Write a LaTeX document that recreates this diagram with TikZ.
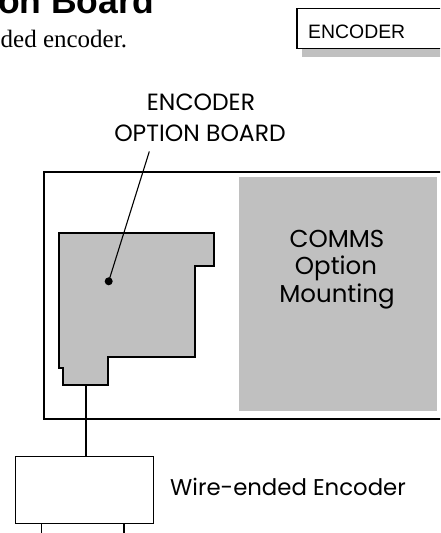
\documentclass[tikz,border=0pt]{standalone}
\usepackage{fontspec}
\setmainfont{Liberation Serif}
\newfontfamily\futura{Poppins}
\newfontfamily\arialf{Liberation Sans}
\definecolor{panelgray}{HTML}{C0C0C0}
\begin{document}
\begin{tikzpicture}[x=1pt,y=-1pt,
  outline/.style={draw=black, line width=1.1pt},
  boardfill/.style={outline, fill=panelgray},
  futlabel/.style={inner sep=0pt, font=\futura\fontsize{23.5}{23.5}\selectfont},
  commslabel/.style={inner sep=0pt, font=\futura\fontsize{24.5}{24.5}\selectfont},
  wire/.style={draw=black, line width=1.1pt}]
\useasboundingbox (0,0) rectangle (440,533);
\clip (0,0) rectangle (440,533);

% header
\node[anchor=base east, inner sep=0pt, font=\arialf\bfseries\fontsize{35.5}{35.5}\selectfont] (title) at (154,13.3) {on Board};
\node[anchor=base west, inner sep=0pt, font=\fontsize{25}{25}\selectfont] (sub) at (0.5,47.3) {ded encoder.};

% ENCODER tab
\fill[panelgray] (302,48) rectangle (450,57);
\draw[outline, fill=white] (297,8.5) rectangle (450,48.5);
\node[anchor=base west, inner sep=0pt, font=\arialf\fontsize{19.4}{19.4}\selectfont] (tab) at (308,38) {ENCODER};

% main enclosure
\draw[outline] (44,172) rectangle (450,419);
\fill[panelgray] (239,177) rectangle (437,411);
\node[commslabel, anchor=base] (c1) at (337,247.3) {COMMS};
\node[commslabel, anchor=base] (c2) at (336,274.8) {Option};
\node[commslabel, anchor=base] (c3) at (337,302.3) {Mounting};

% encoder option board
\draw[boardfill] (59,233) -- (214,233) -- (214,266) -- (195,266) -- (195,357)
  -- (108,357) -- (108,385) -- (63,385) -- (63,368) -- (59,368) -- cycle;
\coordinate (dot) at (108.7,281.3);
\coordinate (lblpt) at (149.3,151.5);
\coordinate (boardbot) at (86,385);
\fill (dot) circle (4);

% label
\node[futlabel, anchor=base] (l1) at (201,110.7) {ENCODER};
\node[futlabel, anchor=base] (l2) at (200,141.7) {OPTION BOARD};
\draw[wire] (lblpt) -- (dot);

% wire-ended encoder
\node[draw=black, line width=1.1pt, anchor=north west, inner sep=0pt,
  minimum width=138.6pt, minimum height=67.6pt] (enc) at (14.7,455.7) {};
\draw[wire] (boardbot) -- (boardbot |- enc.north);
\draw[outline] (41.7,545) -- (41.7,523.3) -- (124,523.3) -- (124,545);
\node[anchor=base west, inner sep=0pt, font=\futura\fontsize{22.8}{22.8}\selectfont] (encl) at (170,495) {Wire-ended Encoder};
\end{tikzpicture}
\end{document}
